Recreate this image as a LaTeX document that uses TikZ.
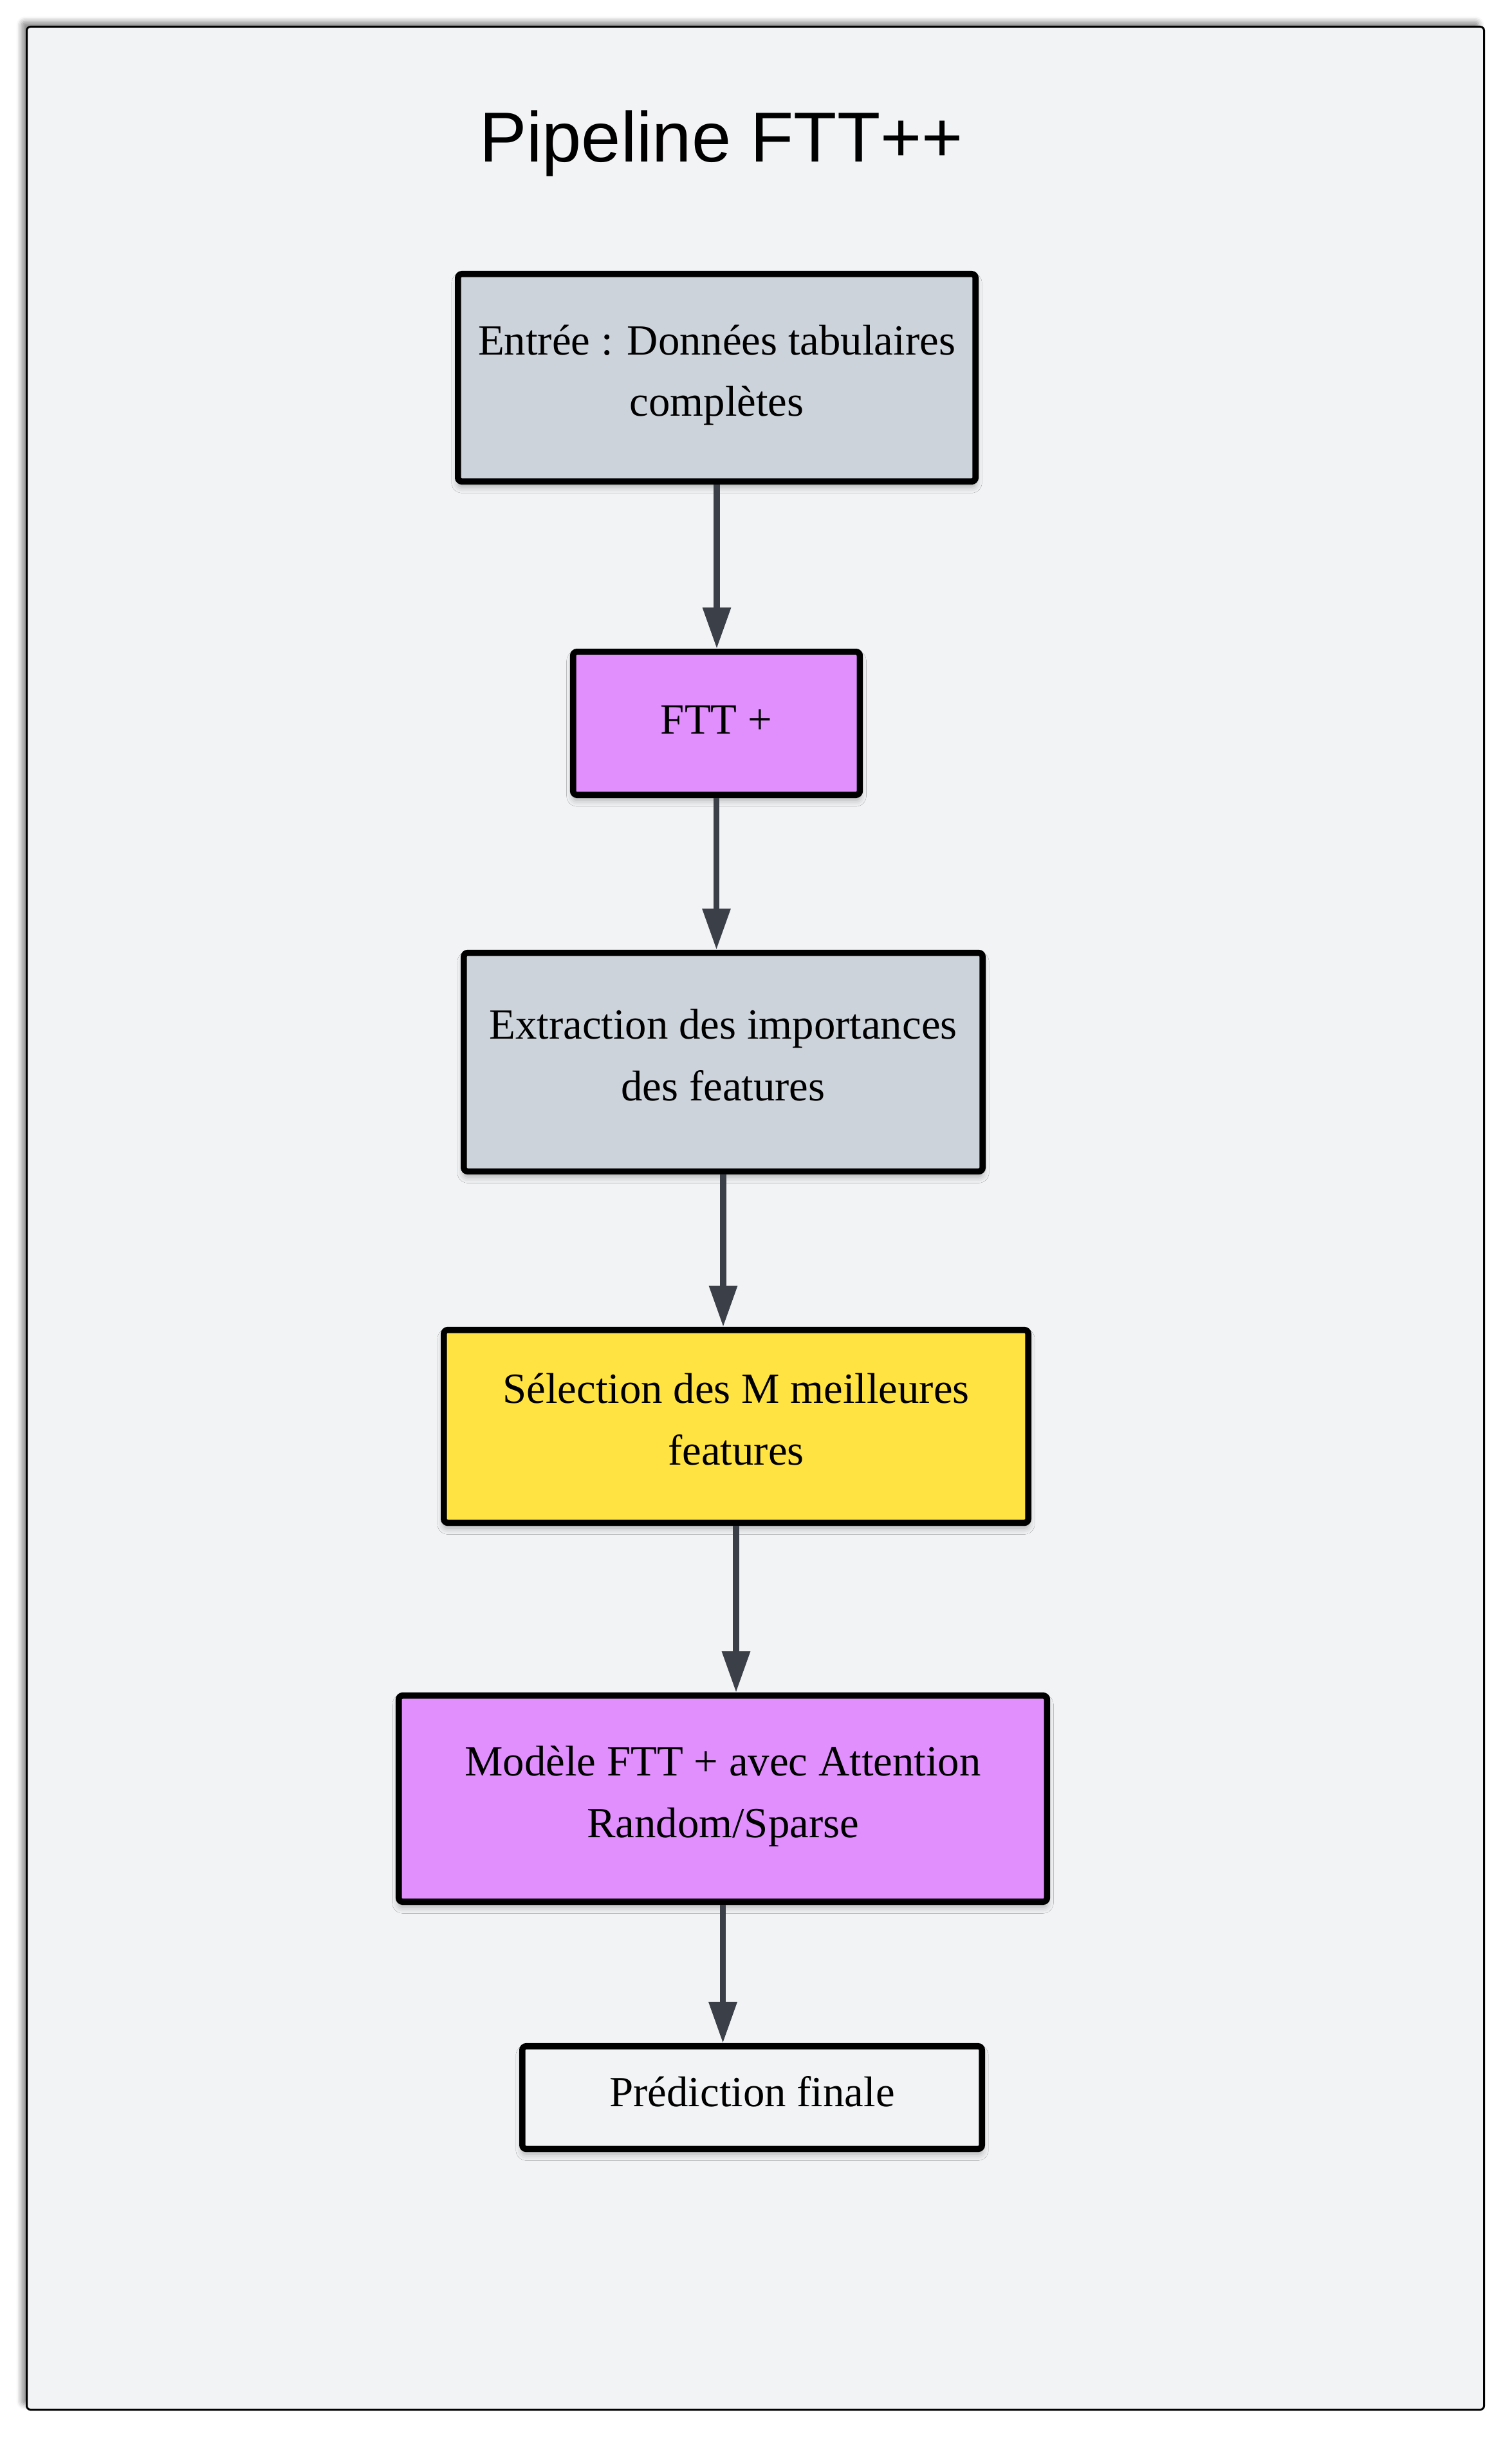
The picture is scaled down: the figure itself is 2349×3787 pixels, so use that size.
\documentclass[tikz,border=0pt]{standalone}
\usepackage{fontspec}
\setmainfont{Liberation Serif}
\newfontfamily\titlefont{Liberation Sans}
\usetikzlibrary{arrows.meta,shadows.blur}
\definecolor{bgcol}{HTML}{F2F3F5}
\definecolor{greycol}{HTML}{CDD3DB}
\definecolor{pinkcol}{HTML}{E08FFD}
\definecolor{yellowcol}{HTML}{FFE343}
\definecolor{arrowcol}{HTML}{3B4048}
\begin{document}
\begin{tikzpicture}[x=0.25pt,y=-0.25pt,
    stage/.style={draw=black, line width=2.4pt, rounded corners=1.5pt, align=center, inner sep=0pt,
        font=\fontsize{16.7}{24}\selectfont, text height=34pt, text depth=4pt,
        blur shadow={shadow xshift=0pt, shadow yshift=-2pt, shadow blur radius=2.5pt, shadow opacity=30}},
    flow/.style={draw=arrowcol, line width=2.4pt, -{Triangle[length=16pt,width=10.5pt]}}] % Pipeline FTT++
    \useasboundingbox (0,0) rectangle (2349,3787);
    \draw[fill=bgcol, line width=0.75pt, rounded corners=1.5pt,
        blur shadow={shadow xshift=-2pt, shadow yshift=2pt, shadow blur radius=2pt, shadow opacity=45}]
        (41.5,41.5) rectangle (2306.5,3744.5);
    \node[font=\titlefont\fontsize{27.5}{33}\selectfont, anchor=base] (title) at (1121,251.5) {Pipeline FTT++};
    \node[stage, fill=greycol, minimum width=201.1pt, minimum height=80.6pt] (input) at (1114,587) {Entrée : Données tabulaires\\complètes};
    \node[stage, fill=pinkcol, minimum width=111.4pt, minimum height=55.6pt, text height=12pt] (ftt) at (1113.5,1124) {FTT +};
    \node[stage, fill=greycol, minimum width=201.6pt, minimum height=84.9pt] (extract) at (1124,1650.5) {Extraction des importances\\des features};
    \node[stage, fill=yellowcol, minimum width=227.1pt, minimum height=74.9pt] (select) at (1144,2216.5) {Sélection des M meilleures\\features};
    \node[stage, fill=pinkcol, minimum width=251.9pt, minimum height=80.1pt] (model) at (1123.5,2795) {Modèle FTT + avec Attention\\Random/Sparse};
    \node[stage, fill=bgcol, minimum width=178.6pt, minimum height=39.9pt, text height=11pt] (pred) at (1169,3259.5) {Prédiction finale};
    \foreach \a/\b in {input/ftt, ftt/extract, extract/select, select/model, model/pred}
        \draw[flow] (\a.south) -- (\a.south |- \b.north);
\end{tikzpicture}
\end{document}
